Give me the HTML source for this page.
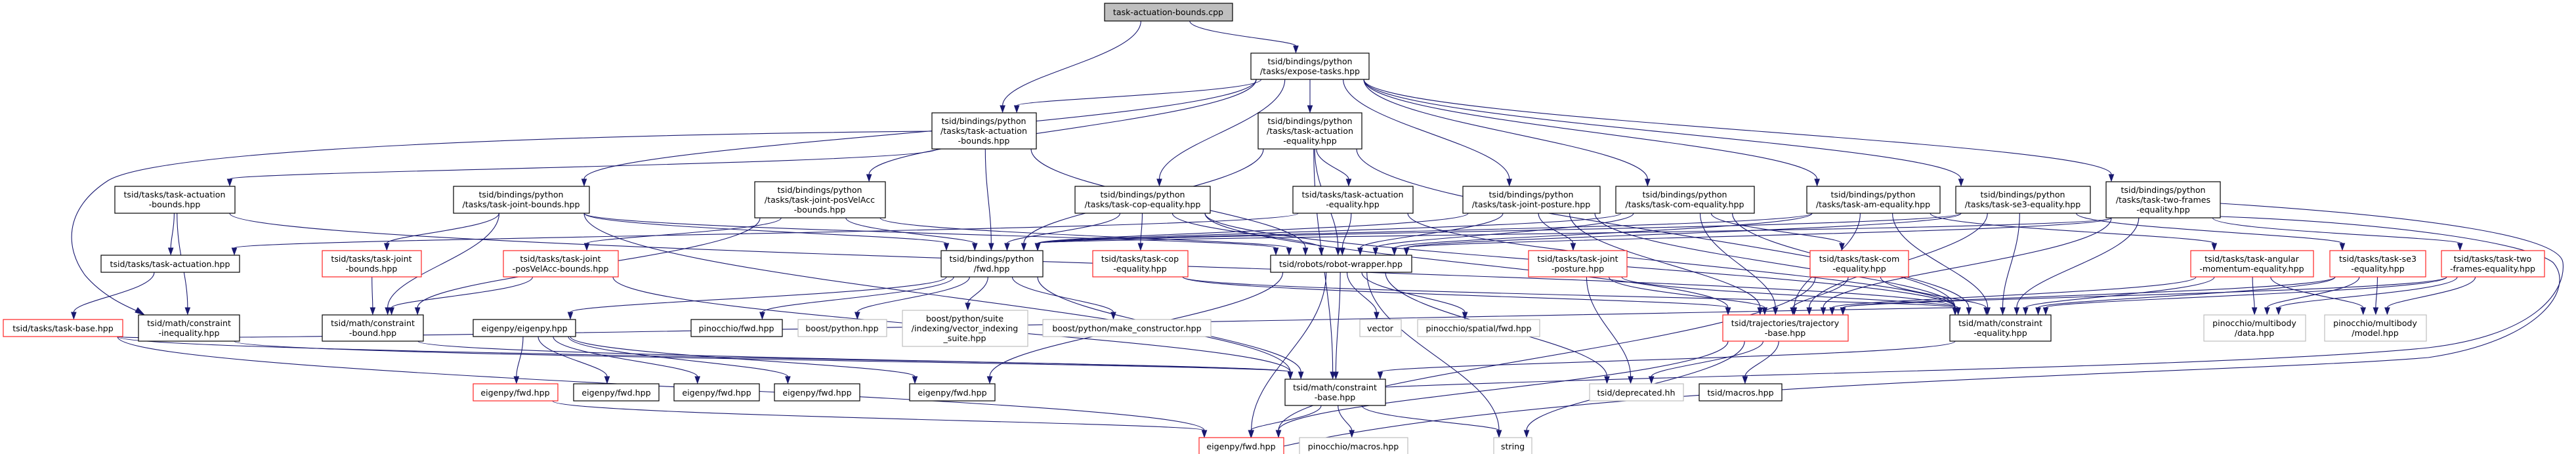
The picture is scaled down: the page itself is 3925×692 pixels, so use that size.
<!DOCTYPE html>
<html><head><meta charset="utf-8">
<style>
html,body{margin:0;padding:0;background:#fff;}
svg{display:block;}
text{font-family:"DejaVu Sans","Liberation Sans",sans-serif;font-size:12.6px;fill:#000;text-anchor:middle;}
rect{fill:#fff;stroke:#000;stroke-width:1.2;}
rect.r{stroke:#f22;}
rect.g{stroke:#bfbfbf;}
rect.c{fill:#bfbfbf;}
</style></head><body>
<svg id="s" width="3925" height="692" viewBox="0 0 3925 692" xmlns="http://www.w3.org/2000/svg">
<g id="edges" fill="none" stroke="#191970" stroke-width="1.1">
<path d="M1420,200 C900,205 250,225 165,275 C95,320 100,380 130,420 C160,455 200,470 218,478"/>
<path d="M3383,310 C3700,330 3900,360 3905,400 C3910,440 3870,510 3700,530 C3400,560 2600,570 2111,590"/>
<path d="M3383,330 C3650,340 3850,370 3890,400 C3925,440 3870,520 3700,545 C3400,570 2400,580 1956,680"/>
</g>
<g id="heads" fill="#191970" stroke="#191970"><polygon points="220,480 206,476 210,469"/></g>
<g id="nodes">
<rect class="c" x="1683" y="5" width="195" height="27"/><text x="1780" y="23">task-actuation-bounds.cpp</text>
<rect x="1906" y="81" width="180" height="40"/><text x="1996" y="98">tsid/bindings/python</text><text x="1996" y="113">/tasks/expose-tasks.hpp</text>
<rect x="1420" y="172" width="159" height="55"/><text x="1499" y="189">tsid/bindings/python</text><text x="1499" y="204">/tasks/task-actuation</text><text x="1499" y="219">-bounds.hpp</text>
<rect x="1917" y="172" width="158" height="55"/><text x="1996" y="189">tsid/bindings/python</text><text x="1996" y="204">/tasks/task-actuation</text><text x="1996" y="219">-equality.hpp</text>
<rect x="175" y="284" width="183" height="41"/><text x="266" y="301">tsid/tasks/task-actuation</text><text x="266" y="316">-bounds.hpp</text>
<rect x="691" y="284" width="207" height="41"/><text x="794" y="301">tsid/bindings/python</text><text x="794" y="316">/tasks/task-joint-bounds.hpp</text>
<rect x="1150" y="277" width="199" height="55"/><text x="1249" y="294">tsid/bindings/python</text><text x="1249" y="309">/tasks/task-joint-posVelAcc</text><text x="1249" y="324">-bounds.hpp</text>
<rect x="1638" y="284" width="206" height="41"/><text x="1741" y="301">tsid/bindings/python</text><text x="1741" y="316">/tasks/task-cop-equality.hpp</text>
<rect x="1970" y="284" width="183" height="41"/><text x="2061" y="301">tsid/tasks/task-actuation</text><text x="2061" y="316">-equality.hpp</text>
<rect x="2229" y="284" width="209" height="41"/><text x="2333" y="301">tsid/bindings/python</text><text x="2333" y="316">/tasks/task-joint-posture.hpp</text>
<rect x="2462" y="284" width="211" height="41"/><text x="2567" y="301">tsid/bindings/python</text><text x="2567" y="316">/tasks/task-com-equality.hpp</text>
<rect x="2753" y="284" width="203" height="41"/><text x="2854" y="301">tsid/bindings/python</text><text x="2854" y="316">/tasks/task-am-equality.hpp</text>
<rect x="2980" y="284" width="205" height="41"/><text x="3082" y="301">tsid/bindings/python</text><text x="3082" y="316">/tasks/task-se3-equality.hpp</text>
<rect x="3209" y="277" width="174" height="55"/><text x="3296" y="294">tsid/bindings/python</text><text x="3296" y="309">/tasks/task-two-frames</text><text x="3296" y="324">-equality.hpp</text>
<rect x="154" y="389" width="211" height="26"/><text x="259" y="407">tsid/tasks/task-actuation.hpp</text>
<rect class="r" x="491" y="382" width="151" height="40"/><text x="566" y="399">tsid/tasks/task-joint</text><text x="566" y="414">-bounds.hpp</text>
<rect class="r" x="767" y="382" width="175" height="40"/><text x="854" y="399">tsid/tasks/task-joint</text><text x="854" y="414">-posVelAcc-bounds.hpp</text>
<rect x="1434" y="382" width="155" height="40"/><text x="1511" y="399">tsid/bindings/python</text><text x="1511" y="414">/fwd.hpp</text>
<rect class="r" x="1665" y="382" width="145" height="40"/><text x="1737" y="399">tsid/tasks/task-cop</text><text x="1737" y="414">-equality.hpp</text>
<rect x="1936" y="389" width="215" height="26"/><text x="2043" y="407">tsid/robots/robot-wrapper.hpp</text>
<rect class="r" x="2329" y="382" width="150" height="40"/><text x="2404" y="399">tsid/tasks/task-joint</text><text x="2404" y="414">-posture.hpp</text>
<rect class="r" x="2758" y="382" width="150" height="40"/><text x="2833" y="399">tsid/tasks/task-com</text><text x="2833" y="414">-equality.hpp</text>
<rect class="r" x="3338" y="382" width="187" height="40"/><text x="3431" y="399">tsid/tasks/task-angular</text><text x="3431" y="414">-momentum-equality.hpp</text>
<rect class="r" x="3550" y="382" width="146" height="40"/><text x="3623" y="399">tsid/tasks/task-se3</text><text x="3623" y="414">-equality.hpp</text>
<rect class="r" x="3720" y="382" width="157" height="40"/><text x="3798" y="399">tsid/tasks/task-two</text><text x="3798" y="414">-frames-equality.hpp</text>
<rect class="r" x="5" y="487" width="182" height="26"/><text x="96" y="505">tsid/tasks/task-base.hpp</text>
<rect x="211" y="480" width="154" height="40"/><text x="288" y="497">tsid/math/constraint</text><text x="288" y="512">-inequality.hpp</text>
<rect x="491" y="480" width="154" height="40"/><text x="568" y="497">tsid/math/constraint</text><text x="568" y="512">-bound.hpp</text>
<rect x="721" y="487" width="156" height="26"/><text x="799" y="505">eigenpy/eigenpy.hpp</text>
<rect x="1053" y="487" width="139" height="26"/><text x="1122" y="505">pinocchio/fwd.hpp</text>
<rect class="g" x="1216" y="487" width="135" height="26"/><text x="1283" y="505">boost/python.hpp</text>
<rect class="g" x="1375" y="473" width="191" height="55"/><text x="1470" y="490">boost/python/suite</text><text x="1470" y="505">/indexing/vector_indexing</text><text x="1470" y="520">_suite.hpp</text>
<rect class="g" x="1589" y="487" width="256" height="26"/><text x="1717" y="505">boost/python/make_constructor.hpp</text>
<rect class="g" x="2072" y="487" width="63" height="26"/><text x="2103" y="505">vector</text>
<rect class="g" x="2160" y="487" width="186" height="26"/><text x="2253" y="505">pinocchio/spatial/fwd.hpp</text>
<rect class="r" x="2625" y="480" width="191" height="40"/><text x="2720" y="497">tsid/trajectories/trajectory</text><text x="2720" y="512">-base.hpp</text>
<rect x="2971" y="480" width="154" height="40"/><text x="3048" y="497">tsid/math/constraint</text><text x="3048" y="512">-equality.hpp</text>
<rect class="g" x="3358" y="480" width="155" height="40"/><text x="3435" y="497">pinocchio/multibody</text><text x="3435" y="512">/data.hpp</text>
<rect class="g" x="3542" y="480" width="155" height="40"/><text x="3619" y="497">pinocchio/multibody</text><text x="3619" y="512">/model.hpp</text>
<rect class="r" x="721" y="585" width="129" height="26"/><text x="785" y="603">eigenpy/fwd.hpp</text>
<rect x="874" y="585" width="130" height="26"/><text x="939" y="603">eigenpy/fwd.hpp</text>
<rect x="1027" y="585" width="130" height="26"/><text x="1092" y="603">eigenpy/fwd.hpp</text>
<rect x="1180" y="585" width="130" height="26"/><text x="1245" y="603">eigenpy/fwd.hpp</text>
<rect x="1386" y="585" width="130" height="26"/><text x="1451" y="603">eigenpy/fwd.hpp</text>
<rect x="1958" y="578" width="153" height="40"/><text x="2034" y="595">tsid/math/constraint</text><text x="2034" y="610">-base.hpp</text>
<rect class="g" x="2422" y="585" width="143" height="26"/><text x="2493" y="603">tsid/deprecated.hh</text>
<rect x="2589" y="585" width="126" height="26"/><text x="2652" y="603">tsid/macros.hpp</text>
<rect class="r" x="1827" y="667" width="129" height="26"/><text x="1891" y="685">eigenpy/fwd.hpp</text>
<rect class="g" x="1980" y="667" width="165" height="26"/><text x="2062" y="685">pinocchio/macros.hpp</text>
<rect class="g" x="2276" y="667" width="58" height="26"/><text x="2305" y="685">string</text>
</g>
</svg>
<script>
var N={A:[1683,1878,5,32],B:[1906,2086,81,121],C:[1420,1579,172,227],D:[1917,2075,172,227],E:[175,358,284,325],F:[691,898,284,325],G:[1150,1349,277,332],H:[1638,1844,284,325],I:[1970,2153,284,325],J:[2229,2438,284,325],K:[2462,2673,284,325],L:[2753,2956,284,325],M:[2980,3185,284,325],Nn:[3209,3383,277,332],O:[154,365,389,415],P:[491,642,382,422],Q:[767,942,382,422],R:[1434,1589,382,422],S:[1665,1810,382,422],T:[1936,2151,389,415],U:[2329,2479,382,422],V:[2758,2908,382,422],W:[3338,3525,382,422],X:[3550,3696,382,422],Y:[3720,3877,382,422],Z:[5,187,487,513],AA:[211,365,480,520],AB:[491,645,480,520],AC:[721,877,487,513],AD:[1053,1192,487,513],AE:[1216,1351,487,513],AF:[1375,1566,473,528],AG:[1589,1845,487,513],AH:[2072,2135,487,513],AI:[2160,2346,487,513],AJ:[2625,2816,480,520],AK:[2971,3125,480,520],AL:[3358,3513,480,520],AM:[3542,3697,480,520],AN:[721,850,585,611],AO:[874,1004,585,611],AP:[1027,1157,585,611],AQ:[1180,1310,585,611],AR:[1386,1516,585,611],AS:[1958,2111,578,618],AT:[2422,2565,585,611],AU:[2589,2715,585,611],AV:[1827,1956,667,693],AW:[1980,2145,667,693],AX:[2276,2334,667,693]};
var E="A-C A-B B-C B-D B-G B-F B-H B-J B-K B-L B-M B-Nn C-E C-R C-T D-I D-R D-T D-AK D-AS E-O E-AA E-AK F-P F-R F-T F-AB F-AS G-Q G-R G-T G-AB H-S H-R H-T H-AJ H-AK I-O I-AK I-T J-U J-R J-T J-AJ J-AK K-V K-R K-T K-AJ K-AK L-W L-R L-T L-AJ L-AK M-X M-R M-T M-AJ M-AK Nn-Y Nn-R Nn-T Nn-AJ Nn-AK O-Z P-AB Q-AB Q-AS R-AC R-AD R-AE R-AF R-AG R-AS S-AJ S-AK T-AH T-AI T-AX T-AS T-AV T-AT T-AR U-AJ U-AK U-AT V-AJ V-AK V-AV W-AL W-AM W-AJ W-AK X-AL X-AM X-AJ X-AK Y-AL Y-AM Y-AJ Y-AK Z-AS Z-AV Z-AK AA-AS AB-AS AC-AN AC-AO AC-AP AC-AQ AC-AR AJ-AU AJ-AT AJ-AV AJ-AX AK-AS AS-AV AS-AW AS-AX AN-AV".split(" ");
var ns="http://www.w3.org/2000/svg",ge=document.getElementById("edges"),gh=document.getElementById("heads");
function cl(v,a,b){return Math.max(a+8,Math.min(b-8,v));}
E.forEach(function(e){var p=e.split("-"),s=N[p[0]],t=N[p[1]];
var scx=(s[0]+s[1])/2,tcx=(t[0]+t[1])/2;
var sx=cl(scx+(tcx-scx)*0.15,s[0],s[1]),sy=s[3];
var tx=cl(tcx+(scx-tcx)*0.1,t[0],t[1]),ty=t[2];
var dy=Math.max(ty-sy,30);
var c1x=sx,c1y=sy+dy*0.4,c2x=tx,c2y=ty-dy*0.4;
var path=document.createElementNS(ns,"path");
var ex=tx,ey=ty-1;
var dx=ex-c2x,dyy=ey-c2y,L=Math.sqrt(dx*dx+dyy*dyy)||1;dx/=L;dyy/=L;
var bx=ex-dx*10,by=ey-dyy*10;
path.setAttribute("d","M"+sx+","+sy+" C"+c1x+","+c1y+" "+c2x+","+c2y+" "+bx+","+by);
ge.appendChild(path);
var px=-dyy*3.6,py=dx*3.6;
var poly=document.createElementNS(ns,"polygon");
poly.setAttribute("points",ex+","+ey+" "+(bx+px)+","+(by+py)+" "+(bx-px)+","+(by-py));
gh.appendChild(poly);});
</script>
</body></html>
